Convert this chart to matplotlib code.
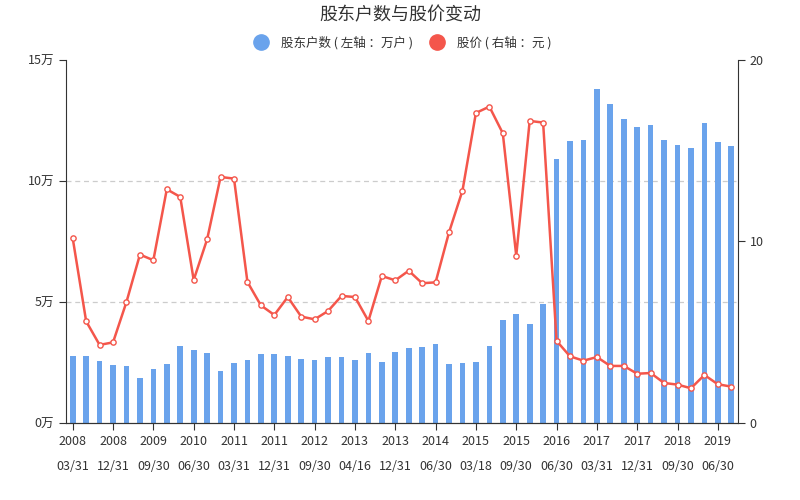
import matplotlib
matplotlib.use('Agg')
import matplotlib.pyplot as plt
from matplotlib.lines import Line2D
import numpy as np

plt.rcParams['font.family'] = ['Noto Sans CJK SC', 'DejaVu Sans']

# 报告期
dates = ['2008\n03/31', '2008\n06/30', '2008\n09/30', '2008\n12/31',
         '2009\n03/31', '2009\n06/30', '2009\n09/30', '2009\n12/31',
         '2010\n03/31', '2010\n06/30', '2010\n09/30', '2010\n12/31',
         '2011\n03/31', '2011\n06/30', '2011\n09/30', '2011\n12/31',
         '2012\n03/31', '2012\n06/30', '2012\n09/30', '2012\n12/31',
         '2013\n03/31', '2013\n04/16', '2013\n06/30', '2013\n09/30',
         '2013\n12/31', '2014\n03/31', '2014\n04/30', '2014\n06/30',
         '2014\n09/30', '2014\n12/31', '2015\n03/18', '2015\n03/31',
         '2015\n06/30', '2015\n09/30', '2015\n12/31', '2016\n03/31',
         '2016\n06/30', '2016\n09/30', '2016\n12/31', '2017\n03/31',
         '2017\n06/30', '2017\n09/30', '2017\n12/31', '2018\n03/31',
         '2018\n06/30', '2018\n09/30', '2018\n12/31', '2019\n03/31',
         '2019\n06/30', '2019\n09/30']

# 股东户数（万户）
holders = [2.74, 2.77, 2.57, 2.39, 2.35, 1.84, 2.21, 2.43, 3.18, 3.00,
           2.89, 2.13, 2.48, 2.61, 2.85, 2.86, 2.75, 2.64, 2.59, 2.73,
           2.70, 2.61, 2.88, 2.53, 2.92, 3.09, 3.13, 3.24, 2.42, 2.48,
           2.51, 3.18, 4.23, 4.51, 4.10, 4.90, 10.89, 11.63, 11.69, 13.80,
           13.18, 12.57, 12.23, 12.30, 11.70, 11.47, 11.37, 12.41, 11.61, 11.45]

# 股价（元）
price = [10.17, 5.59, 4.29, 4.43, 6.66, 9.27, 8.96, 12.87, 12.45, 7.87,
         10.11, 13.55, 13.46, 7.76, 6.47, 5.94, 6.93, 5.85, 5.70, 6.16,
         6.99, 6.93, 5.61, 8.09, 7.85, 8.38, 7.69, 7.74, 10.50, 12.80,
         17.08, 17.43, 15.96, 9.21, 16.64, 16.55, 4.51, 3.66, 3.42, 3.62,
         3.13, 3.13, 2.70, 2.74, 2.19, 2.10, 1.90, 2.63, 2.12, 1.99]

bar_color = '#6aa3ec'
line_color = '#f4564b'
axis_color = '#333333'

x = np.arange(len(dates))

fig = plt.figure(figsize=(8, 5), dpi=100)
ax = fig.add_axes([0.0825, 0.1546, 0.84, 0.7254])
ax2 = ax.twinx()

ax.bar(x, holders, width=0.42, color=bar_color, zorder=2)
ax.set_xlim(-0.5, len(dates) - 0.5)
ax.set_ylim(0, 15)
ax.set_yticks([0, 5, 10, 15])
ax.set_yticklabels(['0万', '5万', '10万', '15万'])
for v in [5, 10]:
    ax.axhline(v, color='#cccccc', linestyle=(0, (4, 3)), linewidth=0.9, zorder=1)

ax.set_xticks(x[::3])
ax.set_xticklabels(dates[::3], linespacing=2.2)

ax2.plot(x, price, color=line_color, linewidth=1.8, marker='o', markersize=3.8,
         markerfacecolor='white', markeredgecolor=line_color, markeredgewidth=1, zorder=3)
ax2.set_ylim(0, 20)
ax2.set_yticks([0, 10, 20])

for a in (ax, ax2):
    a.spines['top'].set_visible(False)
    for s in ['left', 'right', 'bottom']:
        a.spines[s].set_color(axis_color)
    a.tick_params(colors=axis_color, labelsize=9, length=5)
ax.spines['right'].set_visible(False)
ax2.spines['left'].set_visible(False)
ax.tick_params(axis='x', pad=4)

fig.text(0.5, 0.97, '股东户数与股价变动', ha='center', va='center', fontsize=13, color='#333333')

handles = [Line2D([0], [0], marker='o', color='none', markerfacecolor=bar_color,
                  markeredgecolor=bar_color, markersize=11),
           Line2D([0], [0], marker='o', color='none', markerfacecolor=line_color,
                  markeredgecolor=line_color, markersize=11)]
fig.legend(handles, ['股东户数 ( 左轴 ：万户 )', '股价 ( 右轴 ：元 )'], loc='center',
           bbox_to_anchor=(0.5, 0.915), ncol=2, frameon=False, fontsize=9,
           handletextpad=0.6, columnspacing=0.9, labelcolor='#333333')

fig.savefig('out.png', dpi=100)
